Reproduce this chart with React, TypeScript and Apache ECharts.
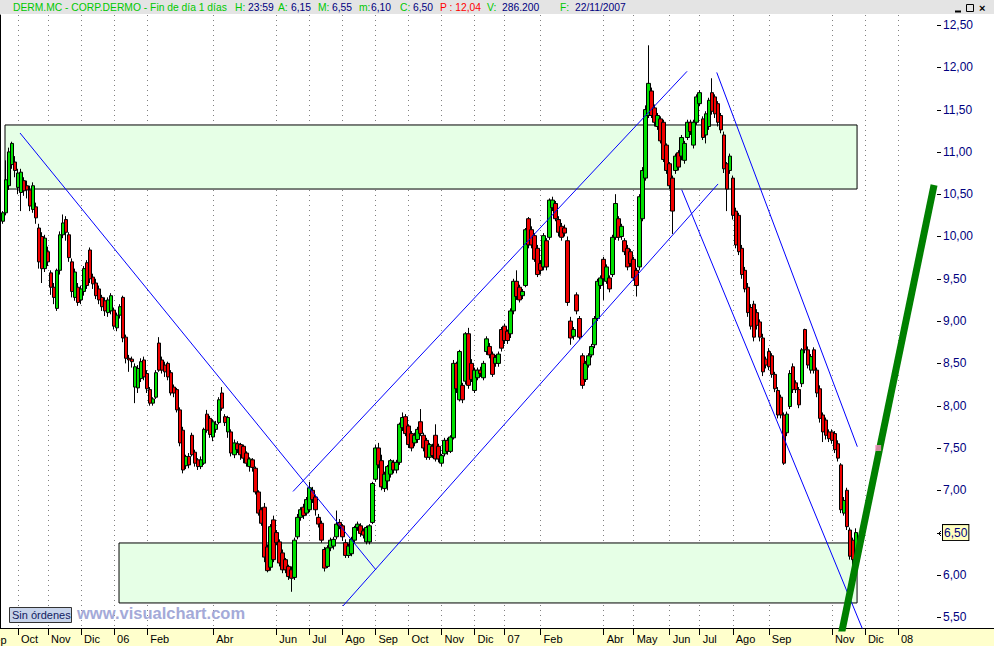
import React, { useEffect, useRef } from 'react';
import * as echarts from 'echarts';

// ---------- data ----------
const startDate = '2005-09-15';
const categoryCount = 313; // two trading days per category
const firstCandle = 1;

const opens = [
  10.18,10.28,10.60,10.85,10.88,10.58,10.52,10.66,10.60,10.55,
  10.32,10.35,10.10,10.00,9.62,9.82,9.57,9.40,9.15,9.60,
  10.02,10.20,10.02,9.70,9.28,9.40,9.25,9.35,9.69,9.84,
  9.52,9.45,9.38,9.28,9.24,9.10,9.12,9.13,8.92,9.07,
  9.28,8.81,8.56,8.55,8.22,8.21,8.32,8.54,8.38,8.19,
  8.03,8.10,8.74,8.54,8.48,8.50,8.39,8.22,8.19,7.95,
  7.71,7.29,7.40,7.65,7.45,7.36,7.28,7.32,7.90,7.85,
  7.63,7.72,7.80,8.15,7.87,7.69,7.69,7.42,7.55,7.54,
  7.52,7.44,7.28,7.36,7.26,6.98,6.77,6.80,6.33,6.09,
  6.65,6.50,6.39,6.26,6.18,6.10,6.06,5.97,6.45,6.68,
  6.80,6.73,6.77,7.00,6.92,6.68,6.61,6.30,6.10,6.32,
  6.34,6.45,6.62,6.58,6.38,6.23,6.25,6.41,6.56,6.58,
  6.52,6.39,6.39,6.62,7.13,7.50,7.35,7.02,7.11,7.19,
  7.33,7.24,7.33,7.74,7.87,7.76,7.67,7.56,7.60,7.81,
  7.65,7.59,7.39,7.52,7.65,7.52,7.32,7.43,7.59,7.46,
  7.62,8.50,8.07,8.24,8.29,8.85,8.50,8.18,8.33,8.42,
  8.33,8.64,8.70,8.61,8.50,8.50,8.90,8.94,8.88,8.85,
  9.12,9.47,9.40,9.30,9.42,10.21,10.08,10.01,9.86,9.68,
  9.64,9.95,9.99,10.34,10.39,10.20,10.12,10.10,9.95,9.00,
  8.82,9.31,9.03,8.59,8.31,8.48,8.60,8.72,9.03,9.42,
  9.73,9.47,9.51,9.55,9.99,10.21,10.00,9.95,9.86,9.82,
  9.73,9.60,9.64,10.21,10.69,11.43,11.72,11.52,11.30,11.39,
  11.35,11.08,10.86,10.69,10.78,10.99,10.95,10.90,11.17,11.35,
  11.08,11.35,11.57,11.39,11.20,11.30,11.70,11.65,11.57,11.43,
  11.20,10.86,10.78,10.69,10.30,10.25,9.86,9.60,9.40,9.16,
  9.20,9.10,8.99,8.80,8.55,8.64,8.59,8.37,8.18,8.10,
  7.89,7.68,7.99,8.46,8.27,8.19,8.26,8.90,8.66,8.42,
  8.66,8.42,8.20,7.89,7.83,7.69,7.69,7.67,7.55,7.30,
  6.73,7.00,6.53,6.41,6.15,
];
const closes = [
  10.28,10.67,11.00,11.10,10.78,10.75,10.76,10.54,10.55,10.36,
  10.60,10.22,9.70,9.62,9.98,9.70,9.40,9.28,9.60,10.02,
  10.16,10.05,9.75,9.35,9.58,9.22,9.38,9.62,9.42,9.50,
  9.44,9.30,9.25,9.17,9.12,9.25,9.30,8.94,9.07,9.17,
  8.80,8.56,8.54,8.52,8.46,8.44,8.52,8.34,8.20,8.03,
  8.08,8.39,8.42,8.42,8.40,8.34,8.15,8.15,7.95,7.56,
  7.24,7.40,7.30,7.42,7.32,7.28,7.36,7.72,7.71,7.66,
  7.81,7.78,8.07,7.97,7.80,7.86,7.44,7.56,7.48,7.42,
  7.38,7.32,7.37,7.27,6.98,6.73,6.61,6.21,6.05,6.57,
  6.18,6.38,6.14,6.06,6.06,5.98,5.96,6.41,6.68,6.77,
  6.70,6.89,7.03,6.89,6.77,6.60,6.41,6.08,6.32,6.41,
  6.42,6.60,6.58,6.45,6.23,6.34,6.42,6.56,6.60,6.49,
  6.47,6.56,6.58,7.08,7.50,7.30,7.04,7.19,7.28,7.35,
  7.24,7.33,7.78,7.86,7.67,7.54,7.50,7.65,7.72,7.67,
  7.50,7.39,7.54,7.41,7.37,7.37,7.41,7.59,7.46,7.63,
  8.50,8.20,8.64,8.07,8.85,8.24,8.31,8.42,8.42,8.38,
  8.50,8.79,8.60,8.37,8.57,8.61,8.68,8.77,8.77,9.12,
  9.47,9.29,9.25,9.35,10.08,9.90,9.90,9.73,9.55,9.60,
  10.01,9.64,10.43,10.43,10.21,10.05,9.99,10.04,9.22,8.80,
  8.90,9.12,8.81,8.24,8.50,8.59,8.70,9.03,9.47,9.51,
  9.50,9.64,9.38,9.99,10.39,9.99,10.12,9.82,9.64,9.68,
  9.51,9.42,10.47,10.78,11.50,11.81,11.43,11.35,11.43,11.13,
  10.91,10.78,10.60,10.30,10.95,10.82,11.17,11.10,11.35,11.24,
  11.35,11.65,11.70,11.17,11.45,11.61,11.48,11.45,11.35,11.26,
  10.80,10.56,10.95,10.25,9.90,9.82,9.55,9.38,9.10,8.94,
  8.81,8.95,8.81,8.40,8.48,8.46,8.37,8.20,7.89,7.89,
  7.32,7.90,8.38,8.19,8.19,8.01,8.66,8.66,8.48,8.58,
  8.42,8.15,7.85,7.69,7.65,7.61,7.59,7.48,7.38,6.77,
  6.88,6.57,6.22,6.18,6.50,
];
const lows = [
  10.15,10.25,10.55,10.80,10.70,10.50,10.30,10.48,10.45,10.30,
  10.28,10.15,9.62,9.45,9.58,9.65,9.31,9.20,9.12,9.55,
  9.98,9.95,9.70,9.28,9.24,9.18,9.20,9.30,9.38,9.45,
  9.38,9.26,9.20,9.12,9.06,9.05,9.08,8.90,8.88,9.03,
  8.75,8.50,8.40,8.45,8.03,8.15,8.28,8.30,8.15,8.00,
  8.00,8.08,8.40,8.38,8.34,8.30,8.12,8.10,7.92,7.52,
  7.20,7.25,7.26,7.40,7.28,7.24,7.25,7.30,7.68,7.62,
  7.58,7.68,7.78,7.94,7.76,7.62,7.40,7.38,7.44,7.36,
  7.32,7.28,7.22,7.22,6.95,6.70,6.58,6.15,6.03,6.05,
  6.15,6.35,6.10,6.02,6.02,5.94,5.80,5.94,6.42,6.64,
  6.66,6.70,6.74,6.85,6.70,6.56,6.38,6.04,6.08,6.28,
  6.30,6.42,6.54,6.40,6.20,6.20,6.22,6.38,6.52,6.45,
  6.43,6.36,6.36,6.60,7.10,7.26,7.00,6.98,7.00,7.15,
  7.20,7.20,7.30,7.70,7.64,7.50,7.46,7.52,7.56,7.64,
  7.46,7.36,7.36,7.38,7.34,7.33,7.28,7.40,7.42,7.44,
  7.60,8.15,8.05,8.03,8.25,8.20,8.28,8.15,8.30,8.34,
  8.30,8.60,8.56,8.34,8.46,8.46,8.64,8.73,8.73,8.80,
  9.08,9.25,9.22,9.26,9.40,9.86,9.86,9.70,9.52,9.55,
  9.60,9.60,9.96,10.30,10.18,10.00,9.95,10.00,9.18,8.72,
  8.78,9.08,8.78,8.20,8.28,8.45,8.57,8.68,9.00,9.38,
  9.25,9.44,9.34,9.52,9.96,9.95,9.96,9.78,9.60,9.64,
  9.48,9.29,9.60,10.18,10.66,11.40,11.40,11.30,11.26,11.10,
  10.88,10.74,10.56,10.03,10.74,10.78,10.90,10.86,11.14,11.20,
  11.04,11.32,11.54,11.14,11.10,11.26,11.44,11.40,11.30,11.22,
  10.75,10.30,10.74,10.20,9.86,9.78,9.50,9.34,9.05,8.90,
  8.76,8.90,8.76,8.35,8.44,8.42,8.33,8.16,7.85,7.85,
  7.30,7.64,7.96,8.15,8.15,7.97,8.22,8.62,8.44,8.38,
  8.38,8.10,7.80,7.57,7.60,7.57,7.55,7.44,7.34,6.73,
  6.70,6.53,6.18,6.10,6.10,
];
const highs = [
  10.30,10.90,11.05,11.12,10.95,10.80,10.80,10.70,10.66,10.60,
  10.64,10.40,10.15,10.05,10.02,9.88,9.60,9.45,9.62,10.06,
  10.26,10.24,10.05,9.74,9.62,9.45,9.42,9.65,9.72,9.87,
  9.56,9.50,9.42,9.31,9.28,9.28,9.33,9.16,9.10,9.20,
  9.30,8.84,8.60,8.58,8.50,8.48,8.56,8.58,8.42,8.22,
  8.10,8.42,8.81,8.58,8.52,8.52,8.42,8.25,8.21,7.98,
  7.75,7.42,7.44,7.68,7.48,7.38,7.40,7.74,7.95,7.88,
  7.84,7.82,8.10,8.22,7.90,7.88,7.72,7.60,7.58,7.56,
  7.54,7.46,7.39,7.38,7.28,7.00,6.80,6.85,6.36,6.60,
  6.70,6.53,6.42,6.30,6.20,6.12,6.10,6.44,6.72,6.80,
  6.84,6.92,7.10,7.04,6.95,6.72,6.64,6.33,6.35,6.44,
  6.45,6.76,6.66,6.60,6.42,6.37,6.45,6.58,6.63,6.61,
  6.55,6.58,6.60,7.10,7.54,7.56,7.42,7.22,7.30,7.37,
  7.36,7.36,7.80,7.92,7.90,7.78,7.70,7.68,7.75,7.96,
  7.68,7.62,7.56,7.55,7.78,7.55,7.43,7.62,7.62,7.65,
  8.54,8.52,8.66,8.27,8.87,8.92,8.55,8.45,8.45,8.46,
  8.53,8.82,8.74,8.64,8.60,8.64,8.93,8.97,8.90,9.15,
  9.50,9.60,9.43,9.38,10.10,10.23,10.12,10.04,9.90,9.72,
  10.04,9.98,10.45,10.47,10.42,10.24,10.16,10.14,10.00,9.05,
  8.93,9.34,9.06,8.62,8.53,8.62,8.73,9.06,9.50,9.54,
  9.76,9.67,9.54,10.02,10.50,10.24,10.15,9.98,9.90,9.85,
  9.76,9.63,10.50,10.82,11.55,12.26,11.76,11.56,11.46,11.42,
  11.38,11.10,10.88,10.72,10.98,11.02,11.20,11.13,11.38,11.38,
  11.38,11.68,11.73,11.42,11.48,11.64,11.87,11.68,11.60,11.46,
  11.24,10.88,10.98,10.72,10.34,10.28,9.90,9.64,9.45,9.20,
  9.24,9.14,9.02,8.85,8.58,8.68,8.62,8.40,8.22,8.13,
  7.92,7.93,8.42,8.50,8.30,8.22,8.68,8.91,8.70,8.61,
  8.69,8.45,8.24,7.92,7.86,7.72,7.72,7.70,7.59,7.32,
  6.92,7.03,6.56,6.44,6.55,
];

const monthAbbr = ['', 'Feb', 'Mar', 'Abr', 'May', 'Jun', 'Jul', 'Ago', 'Sep', 'Oct', 'Nov', 'Dic'];
const hiddenMonths = ['2006-03', '2006-05', '2007-03', '2007-10', '2008-02'];
const priceTicks = [5.5, 6, 6.5, 7, 7.5, 8, 8.5, 9, 9.5, 10, 10.5, 11, 11.5, 12, 12.5];
const yMin = 5.372;
const yMax = 12.618;
const lastPrice = 6.5;

// annotations: [position in categories, price]
const downTrend = [[6.66, 11.223], [125.21, 6.058]];
const upChannelLow = [[114.2, 5.632], [239.1, 10.621]];
const upChannelHigh = [[97.57, 6.986], [228.77, 11.952]];
const downChannelHigh = [[238.66, 11.939], [285.48, 7.515]];
const downChannelLow = [[227.0, 10.552], [288.7, 5.23]];
const greenTrend = [[279.05, 5.112], [311.02, 10.609]];
const pinkMark = [[292.4, 7.5]];
const topZone = [[1.665, 11.318], [285.38, 10.561]];
const bottomZone = [[39.63, 6.377], [285.38, 5.668]];

const titleParts = [
  { x: 13, text: 'DERM.MC - CORP.DERMO - Fin de día 1 días', c: '#00C800' },
  { x: 235, text: 'H:', c: '#00C800' }, { x: 248, text: '23:59', c: '#000080' },
  { x: 278, text: 'A:', c: '#00C800' }, { x: 291, text: '6,15', c: '#000080' },
  { x: 318, text: 'M:', c: '#00C800' }, { x: 332, text: '6,55', c: '#000080' },
  { x: 359, text: 'm:', c: '#00C800' }, { x: 371, text: '6,10', c: '#000080' },
  { x: 400, text: 'C:', c: '#00C800' }, { x: 413, text: '6,50', c: '#000080' },
  { x: 440, text: 'P : 12,04', c: '#FF0000' },
  { x: 487, text: 'V:', c: '#00C800' }, { x: 502, text: '286.200', c: '#000080' },
  { x: 560, text: 'F:', c: '#00C800' }, { x: 575, text: '22/11/2007', c: '#000080' },
];

const FONT = '"Liberation Sans", Arial, sans-serif';

function businessDays(start: string, count: number): string[] {
  const out: string[] = [];
  const d = new Date(start + 'T00:00:00Z');
  while (out.length < count) {
    const wd = d.getUTCDay();
    if (wd !== 0 && wd !== 6) out.push(d.toISOString().slice(0, 10));
    d.setUTCDate(d.getUTCDate() + 1);
  }
  return out;
}

function monthLabel(ym: string): string {
  const m = parseInt(ym.slice(5, 7), 10);
  if (m === 1) return ym.slice(2, 4);
  return monthAbbr[m - 1];
}

export default function App() {
  const ref = useRef<HTMLDivElement>(null);

  useEffect(() => {
    if (!ref.current) return;
    const chart = echarts.init(ref.current, undefined, { renderer: 'svg' });

    const days = businessDays(startDate, categoryCount * 2);
    const categories: string[] = [];
    const labels: string[] = [];
    for (let k = 0; k < categoryCount; k++) {
      const d0 = days[2 * k];
      const d1 = days[2 * k + 1];
      categories.push(d0);
      let lab = '';
      if (k > 0 && days[2 * k - 1].slice(0, 7) !== d0.slice(0, 7)) lab = d0.slice(0, 7);
      else if (d1.slice(0, 7) !== d0.slice(0, 7)) lab = d1.slice(0, 7);
      if (lab && hiddenMonths.indexOf(lab) >= 0) lab = '';
      labels.push(lab ? monthLabel(lab) : '');
    }
    const isLabeled = (i: number) => labels[i] !== '';

    const candleData = categories.map((_, k) => {
      const j = k - firstCandle;
      if (j >= 0 && j < opens.length) return [opens[j], closes[j], lows[j], highs[j]];
      return '-';
    });

    const trend = (data: number[][], color: string, width: number, z: number) => ({
      type: 'line', xAxisIndex: 1, yAxisIndex: 0, data, symbol: 'none', silent: true, z,
      lineStyle: { color, width }, clip: true,
    });

    const graphic: any[] = [];
    titleParts.forEach((p) => {
      graphic.push({ type: 'text', x: p.x, y: 7, silent: true,
        style: { text: p.text, fill: p.c, font: `10.3px ${FONT}`, verticalAlign: 'middle' } });
    });
    // window buttons
    graphic.push({ type: 'line', shape: { x1: 955, y1: 11.5, x2: 961, y2: 11.5 }, style: { stroke: '#000', lineWidth: 2 } });
    graphic.push({ type: 'rect', shape: { x: 966.5, y: 4.5, width: 7, height: 7 }, style: { stroke: '#000', fill: 'none', lineWidth: 1 } });
    graphic.push({ type: 'text', x: 979, y: 8, style: { text: '×', fill: '#000', font: `bold 11px ${FONT}`, verticalAlign: 'middle' } });
    // partial "Sep" label at left edge
    graphic.push({ type: 'text', x: -13, y: 640, style: { text: 'Sep', fill: '#000', font: `11px ${FONT}`, verticalAlign: 'middle' } });
    // "Sin órdenes" box
    graphic.push({ type: 'rect', shape: { x: 9.5, y: 607.5, width: 62, height: 15 }, style: { fill: '#C7D3EA', stroke: '#333', lineWidth: 1 }, z: 10 });
    graphic.push({ type: 'text', x: 12, y: 615, z: 11, style: { text: 'Sin órdenes', fill: '#102060', font: `11px ${FONT}`, verticalAlign: 'middle' } });
    graphic.push({ type: 'text', x: 77, y: 613, z: 11, style: { text: 'www.visualchart.com', fill: '#A4AAD8', font: `bold 16.5px ${FONT}`, verticalAlign: 'middle' } });

    const option: any = {
      animation: false,
      backgroundColor: 'transparent',
      grid: { left: 0, right: 57, top: 15, bottom: 18, containLabel: false },
      xAxis: [
        {
          type: 'category', data: categories, boundaryGap: false,
          axisLine: { lineStyle: { color: '#000', width: 1 } },
          axisTick: { interval: isLabeled, length: 7, lineStyle: { color: '#000' } },
          axisLabel: {
            interval: isLabeled, formatter: (_v: string, i: number) => labels[i],
            color: '#000', fontSize: 11, fontFamily: FONT, align: 'left', margin: 5, padding: [0, 0, 0, 3],
          },
          splitLine: { show: true, interval: isLabeled, lineStyle: { color: '#808080', type: [1, 4], width: 1 } },
        },
        {
          type: 'value', min: 0, max: categoryCount - 1, show: false,
          axisLine: { show: false }, axisTick: { show: false }, axisLabel: { show: false }, splitLine: { show: false },
        },
      ],
      yAxis: {
        type: 'value', position: 'right', min: yMin, max: yMax,
        axisLine: { show: true, lineStyle: { color: '#000' } },
        axisTick: { show: false },
        axisLabel: {
          customValues: priceTicks, color: '#000080', fontSize: 12, fontFamily: FONT, margin: 6,
          formatter: (v: number) => {
            const s = v.toFixed(2).replace('.', ',');
            return Math.abs(v - lastPrice) < 1e-6 ? `{hl|${s}}` : s;
          },
          rich: {
            hl: { backgroundColor: '#FFFFC0', borderColor: '#000', borderWidth: 1, padding: [2, 1, 1, 1],
              color: '#000080', fontSize: 12, fontFamily: FONT },
          },
        },
        splitLine: { show: false },
      },
      series: [
        {
          type: 'line', xAxisIndex: 1, yAxisIndex: 0, data: [], silent: true, z: 1,
          markArea: {
            silent: true,
            label: { show: false },
            itemStyle: { color: '#E6FFE6', borderColor: '#000', borderWidth: 1 },
            data: [
              [{ coord: topZone[0] }, { coord: topZone[1] }],
              [{ coord: bottomZone[0] }, { coord: bottomZone[1] }],
            ],
          },
        },
        {
          type: 'candlestick', xAxisIndex: 0, yAxisIndex: 0, data: candleData, barWidth: 4, z: 3, silent: true,
          itemStyle: { color: '#00E000', color0: '#F00000', borderColor: '#000', borderColor0: '#000', borderWidth: 1 },
        },
        trend(downTrend, '#0000FF', 1, 4),
        trend(upChannelLow, '#0000FF', 1, 4),
        trend(upChannelHigh, '#0000FF', 1, 4),
        trend(downChannelHigh, '#0000FF', 1, 4),
        trend(downChannelLow, '#0000FF', 1, 4),
        trend(greenTrend, '#008000', 7, 5),
        {
          type: 'scatter', xAxisIndex: 1, yAxisIndex: 0, data: pinkMark, symbol: 'rect', symbolSize: 6, z: 6, silent: true,
          itemStyle: { color: '#FF90C8' },
        },
      ],
      graphic,
    };
    chart.setOption(option);

    // price-axis tick marks (outside, to the right of the axis line)
    const axisX = 994 - 57;
    const tickGraphics: any[] = priceTicks.map((v) => {
      const y = Math.round(chart.convertToPixel({ yAxisIndex: 0 }, v) as number) + 0.5;
      return { type: 'line', silent: true, shape: { x1: axisX, y1: y, x2: axisX + 4, y2: y }, style: { stroke: '#000', lineWidth: 1 } };
    });
    const yLast = Math.round(chart.convertToPixel({ yAxisIndex: 0 }, lastPrice) as number) + 0.5;
    tickGraphics.push({ type: 'polyline', silent: true,
      shape: { points: [[axisX + 4, yLast - 2.5], [axisX + 1.5, yLast], [axisX + 4, yLast + 2.5]] },
      style: { stroke: '#000', lineWidth: 1, fill: 'none' } });
    chart.setOption({ graphic: graphic.concat(tickGraphics) });

    return () => chart.dispose();
  }, []);

  return (
    <div style={{ position: 'absolute', left: 0, top: 0, width: 994, height: 646, background: '#fff', overflow: 'hidden' }}>
      <div style={{ position: 'absolute', left: 0, top: 0, width: 994, height: 14, background: '#E4E4E4' }} />
      <div style={{ position: 'absolute', left: 0, top: 628, width: 994, height: 18, background: '#FFFFCC', borderTop: '1px solid #000', boxSizing: 'border-box' }} />
      <div ref={ref} style={{ position: 'absolute', left: 0, top: 0, width: 994, height: 646 }} />
    </div>
  );
}
